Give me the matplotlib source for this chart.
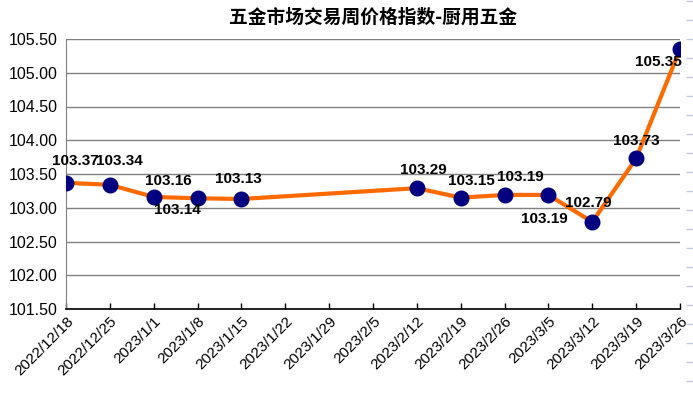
import numpy as np
import matplotlib
matplotlib.use("Agg")
import matplotlib.pyplot as plt
import matplotlib.transforms as mtransforms

plt.rcParams['font.family'] = ['Liberation Sans', 'Noto Sans CJK SC', 'DejaVu Sans']

# weekly dates on the x axis
dates = ['2022/12/18', '2022/12/25', '2023/1/1', '2023/1/8', '2023/1/15',
         '2023/1/22', '2023/1/29', '2023/2/5', '2023/2/12', '2023/2/19',
         '2023/2/26', '2023/3/5', '2023/3/12', '2023/3/19', '2023/3/26']
# weeks with a published value (index into dates)
week_idx = [0, 1, 2, 3, 4, 8, 9, 10, 11, 12, 13, 14]
values = [103.37, 103.34, 103.16, 103.14, 103.13, 103.29, 103.15,
          103.19, 103.19, 102.79, 103.73, 105.35]
# label offsets in pixels (dx, dy), picked to match the reference
label_dx = [9, 10, 15, -20, -3, 7, 11, 16, -4, -4, 0, -22]
label_dy = [22, 24, 16, -12, 20, 18, 17, 18, -24, 19, 17, -13]
yticks = np.arange(101.5, 105.51, 0.5)

fig = plt.figure(figsize=(6.93, 3.94), dpi=100)
ax = fig.add_axes([66/693, 1 - 309/394, (680 - 66)/693, (309 - 39)/394])

ax.plot(week_idx, values, color='#FF6A00', lw=3, zorder=3, solid_capstyle='round')
ax.plot(week_idx, values, 'o', color='#000080', ms=10.5, zorder=4)

for x, v, dx, dy in zip(week_idx, values, label_dx, label_dy):
    ax.annotate(f'{v:.2f}', (x, v), xytext=(dx * 0.72, dy * 0.72),
                textcoords='offset points', ha='center', va='center',
                fontsize=11, fontweight='bold', color='black', zorder=5)

ax.set_xlim(0, len(dates) - 1)
ax.set_ylim(yticks[0], yticks[-1])
ax.set_yticks(yticks)
ax.set_yticklabels([f'{t:.2f}' for t in yticks], fontsize=11.5)
ax.tick_params(axis='y', length=0, pad=6)
ax.set_xticks(range(len(dates)))
ax.set_xticklabels(dates, rotation=45, ha='right', fontsize=11)
ax.tick_params(axis='x', direction='in', length=4, width=1, color='black', pad=4)
shift = mtransforms.ScaledTranslation(10/100, 0, fig.dpi_scale_trans)
for lab in ax.get_xticklabels():
    lab.set_transform(lab.get_transform() + shift)

ax.grid(axis='y', color='#808080', lw=1)
ax.set_axisbelow(True)
for s in ['top', 'right']:
    ax.spines[s].set_visible(False)
ax.spines['left'].set_color('#808080')
ax.spines['bottom'].set_color('black')
ax.spines['bottom'].set_linewidth(1.2)

ax.set_title('五金市场交易周价格指数-厨用五金', fontsize=13.5, fontweight='bold',
             family=['Noto Sans CJK SC', 'DejaVu Sans'], pad=12)

# faint tick strip along the right edge
edge = fig.add_axes([686/693, 0, 7/693, 1])
edge.set_ylim(394, 0)
edge.set_yticks(np.arange(1, 394, 19))
edge.set_yticklabels([])
edge.set_xticks([])
edge.tick_params(axis='y', direction='in', length=5, width=1, color='#c4cadc')
for s in edge.spines.values():
    s.set_visible(False)
edge.patch.set_alpha(0)

fig.savefig('out.png', dpi=100)
